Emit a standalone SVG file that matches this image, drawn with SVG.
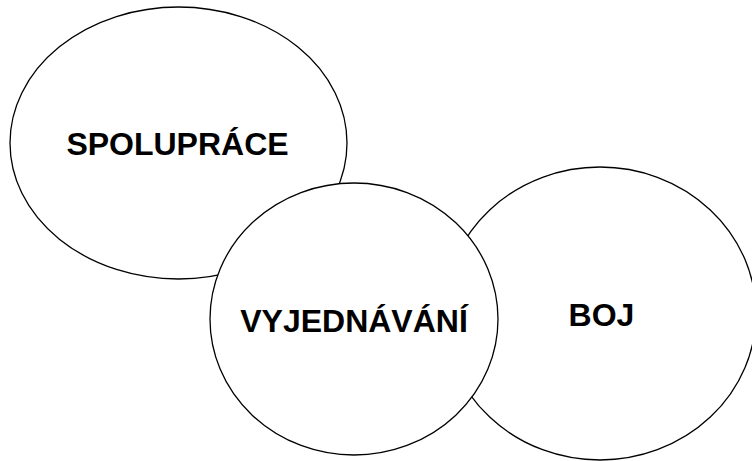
<svg xmlns="http://www.w3.org/2000/svg" width="752" height="461" viewBox="0 0 752 461">
<style>
.n{fill:#fff;stroke:#000;stroke-width:1.3}
.t{font-family:"Liberation Sans",Arial,sans-serif;font-weight:bold;font-size:32px;fill:#000;text-anchor:middle}
</style>
<rect width="752" height="461" fill="#fff"/>
<g id="connectors"/>
<g id="spoluprace">
<ellipse class="n" cx="178.5" cy="143" rx="168.5" ry="136"/>
<text class="t" x="177.5" y="155">SPOLUPRÁCE</text>
</g>
<g id="boj">
<ellipse class="n" cx="600" cy="313.5" rx="156" ry="146.5"/>
<text class="t" x="601.5" y="326">BOJ</text>
</g>
<g id="vyjednavani">
<ellipse class="n" cx="354" cy="319" rx="144" ry="136"/>
<text class="t" x="354" y="331.7">VYJEDNÁVÁNÍ</text>
</g>
</svg>
